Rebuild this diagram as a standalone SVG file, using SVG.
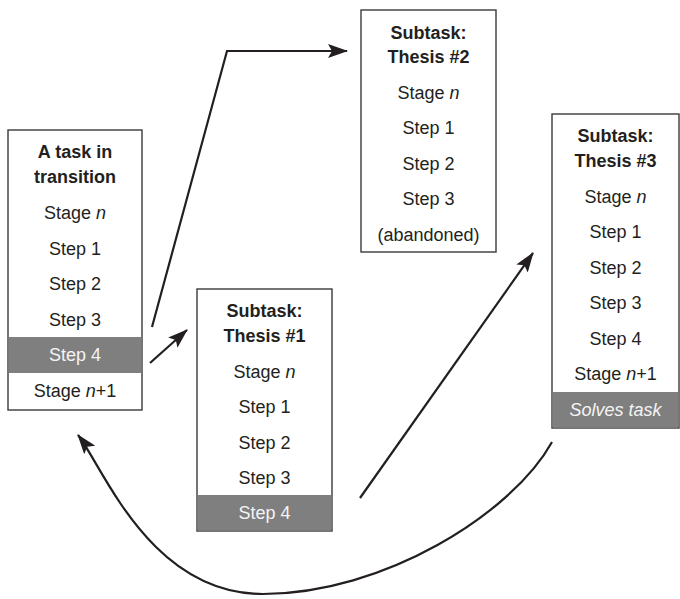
<svg xmlns="http://www.w3.org/2000/svg" width="680" height="599" viewBox="0 0 680 599">
<style>
  text { font-family: "Liberation Sans", Arial, sans-serif; font-size: 18px; fill: #231f20; text-anchor: middle; }
  .t { font-weight: bold; }
  .w { fill: #f4f4f4; }
  .i { font-style: italic; }
  .box { fill: #ffffff; stroke: #3a3a3a; stroke-width: 1.4; }
  .band { fill: #7f7f7f; }
  .c { fill: none; stroke: #231f20; stroke-width: 2.2; }
</style>
<defs>
  <marker id="ah" markerUnits="userSpaceOnUse" markerWidth="20" markerHeight="14" viewBox="0 0 20 14" refX="19" refY="7" orient="auto">
    <path d="M0,0 L20,7 L0,14 L4,7 Z" fill="#231f20"/>
  </marker>
</defs>

<g id="task">
  <rect class="box" x="8" y="130" width="134" height="280"/>
  <rect class="band" x="8.7" y="337" width="132.6" height="36"/>
  <text class="t" x="75" y="158">A task in</text>
  <text class="t" x="75" y="183">transition</text>
  <text x="75" y="219">Stage <tspan class="i">n</tspan></text>
  <text x="75" y="254.5">Step 1</text>
  <text x="75" y="290">Step 2</text>
  <text x="75" y="325.5">Step 3</text>
  <text class="w" x="75" y="361">Step 4</text>
  <text x="75" y="396.5">Stage <tspan class="i">n</tspan>+1</text>
</g>

<g id="thesis1">
  <rect class="box" x="197" y="289" width="135" height="242"/>
  <rect class="band" x="197.7" y="495" width="133.6" height="35.3"/>
  <text class="t" x="264.5" y="317">Subtask:</text>
  <text class="t" x="264.5" y="342">Thesis #1</text>
  <text x="264.5" y="378">Stage <tspan class="i">n</tspan></text>
  <text x="264.5" y="413">Step 1</text>
  <text x="264.5" y="449">Step 2</text>
  <text x="264.5" y="484">Step 3</text>
  <text class="w" x="264.5" y="519">Step 4</text>
</g>

<g id="thesis2">
  <rect class="box" x="361" y="10" width="135" height="242"/>
  <text class="t" x="428.5" y="39">Subtask:</text>
  <text class="t" x="428.5" y="63">Thesis #2</text>
  <text x="428.5" y="99">Stage <tspan class="i">n</tspan></text>
  <text x="428.5" y="134">Step 1</text>
  <text x="428.5" y="170">Step 2</text>
  <text x="428.5" y="205">Step 3</text>
  <text x="428.5" y="241">(abandoned)</text>
</g>

<g id="thesis3">
  <rect class="box" x="552" y="114" width="127" height="314"/>
  <rect class="band" x="552.7" y="392" width="125.6" height="35.3"/>
  <text class="t" x="615.5" y="142">Subtask:</text>
  <text class="t" x="615.5" y="167">Thesis #3</text>
  <text x="615.5" y="203">Stage <tspan class="i">n</tspan></text>
  <text x="615.5" y="238">Step 1</text>
  <text x="615.5" y="274">Step 2</text>
  <text x="615.5" y="309">Step 3</text>
  <text x="615.5" y="345">Step 4</text>
  <text x="615.5" y="380">Stage <tspan class="i">n</tspan>+1</text>
  <text class="w i" x="615.5" y="416">Solves task</text>
</g>

<g id="connectors">
  <path class="c" d="M152,327 L227,51 L347,51" marker-end="url(#ah)"/>
  <path class="c" d="M150,363 L187,330" marker-end="url(#ah)"/>
  <path class="c" d="M360,498 L533,253" marker-end="url(#ah)"/>
  <path class="c" d="M552,442 C512,514 383,594 263,594 C150,594 103,467 78,435" marker-end="url(#ah)"/>
</g>
</svg>
